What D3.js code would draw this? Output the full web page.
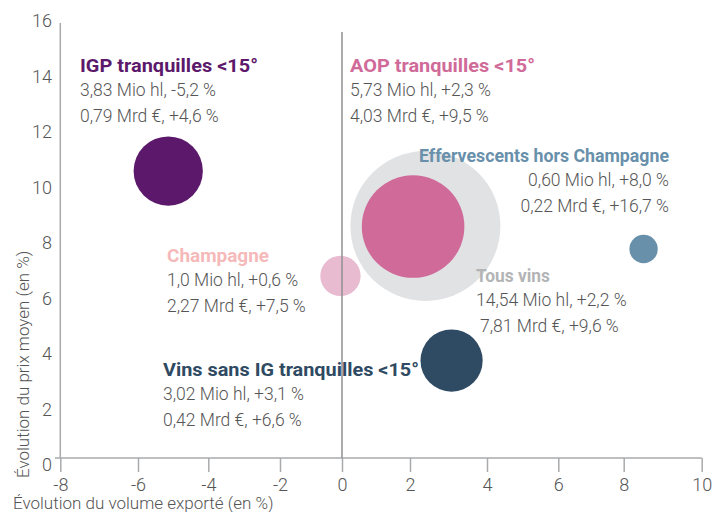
<!DOCTYPE html>
<html>
<head>
<meta charset="utf-8">
<script src="https://cdn.jsdelivr.net/npm/d3@7"></script>
<style>
  body { margin: 0; background: #fff; }
  text { font-family: Roboto, "Liberation Sans", sans-serif; }
</style>
</head>
<body>
<div id="chart"></div>
<script>
var svgWidth = 713;
var svgHeight = 512;

// categories and values
var categories = ["IGP tranquilles <15°", "AOP tranquilles <15°", "Tous vins", "Champagne",
  "Effervescents hors Champagne", "Vins sans IG tranquilles <15°"];
var volumeChange = [-5.14, 2.08, 2.40, -0.05, 8.51, 3.08];   // x, %
var priceChange = [10.34, 8.34, 8.36, 6.56, 7.53, 3.51];     // y, %
var bubbleSize = [3.1, 6.8, 14.54, 1.05, 0.52, 2.5];
var volumeLines = ["3,83 Mio hl, -5,2 %", "5,73 Mio hl, +2,3 %", "14,54 Mio hl, +2,2 %",
  "1,0 Mio hl, +0,6 %", "0,60 Mio hl, +8,0 %", "3,02 Mio hl, +3,1 %"];
var valueLines = ["0,79 Mrd €, +4,6 %", "4,03 Mrd €, +9,5 %", "7,81 Mrd €, +9,6 %",
  "2,27 Mrd €, +7,5 %", "0,22 Mrd €, +16,7 %", "0,42 Mrd €, +6,6 %"];
var xTicks = [-8, -6, -4, -2, 0, 2, 4, 6, 8, 10];
var yTicks = [0, 2, 4, 6, 8, 10, 12, 14, 16];

// styling
var fills = ["#5c196b", "#d06a99", "#e1e2e4", "#e8bbd0", "#6890ab", "#2f4a63"];
var titleColors = ["#5c196b", "#d06a99", "#b3b4b6", "#f6b9b9", "#6890ab", "#2f4a63"];
// label anchor: x, y of title baseline, text-anchor, title width, x shift of last line
var labelPos = [
  {x: 80, y: 72, anchor: "start", w: 178, dx: 0},
  {x: 350, y: 72, anchor: "start", w: 185, dx: 0},
  {x: 476, y: 282, anchor: "start", w: 74, dx: 4},
  {x: 167, y: 262, anchor: "start", w: 102, dx: 0},
  {x: 669, y: 162, anchor: "end", w: 250, dx: 0},
  {x: 163, y: 376, anchor: "start", w: 256, dx: 0}
];
var drawOrder = [2, 0, 1, 3, 4, 5];

var svg = d3.select("#chart")
  .append("svg")
  .attr("width", svgWidth)
  .attr("height", svgHeight);

// the source chart's ticks are not evenly spaced, so use a piecewise scale
var xScale = d3.scaleLinear()
  .domain(xTicks)
  .range([60.3, 138, 208.3, 280, 342, 410, 487, 558.3, 623.7, 701.7]);

var yScale = d3.scaleLinear()
  .domain([0, 16])
  .range([458, 14]);

var rScale = d3.scaleSqrt()
  .domain([0, d3.max(bubbleSize)])
  .range([0, 75]);

var axisColor = "#a9aaac";
var tickColor = "#555";

// bubbles
svg.append("g").selectAll("circle")
  .data(drawOrder)
  .enter()
  .append("circle")
  .attr("cx", i => xScale(volumeChange[i]))
  .attr("cy", i => yScale(priceChange[i]))
  .attr("r", i => rScale(bubbleSize[i]))
  .attr("fill", i => fills[i]);

// x axis
var xAxis = svg.append("g")
  .attr("transform", `translate(0, ${yScale(0)})`)
  .call(d3.axisBottom(xScale)
    .tickValues(xTicks)
    .tickFormat(d => String(d))
    .tickSize(14)
    .tickPadding(6)
    .tickSizeOuter(0));
xAxis.select(".domain").remove();
xAxis.append("line")
  .attr("x1", 55).attr("x2", xScale(10))
  .attr("stroke", axisColor).attr("stroke-width", 1.5);
xAxis.selectAll(".tick line").attr("stroke", axisColor).attr("stroke-width", 1.5);
xAxis.selectAll(".tick text")
  .attr("fill", tickColor)
  .attr("font-size", 18)
  .attr("font-weight", 300)
  .attr("font-family", "Roboto, sans-serif");

// y axis line
svg.append("line")
  .attr("x1", xScale(-8)).attr("x2", xScale(-8))
  .attr("y1", 23).attr("y2", yScale(0))
  .attr("stroke", axisColor).attr("stroke-width", 1.5);

// vertical zero line
svg.append("line")
  .attr("x1", xScale(0)).attr("x2", xScale(0))
  .attr("y1", 32).attr("y2", yScale(0))
  .attr("stroke", "#8f9092").attr("stroke-width", 1.5);

// y tick labels
svg.append("g").selectAll("text")
  .data(yTicks)
  .enter()
  .append("text")
  .attr("x", 52)
  .attr("y", d => yScale(d) + 13)
  .attr("text-anchor", "end")
  .attr("fill", tickColor)
  .attr("font-size", 18)
  .attr("font-weight", 300)
  .text(d => d);

// axis titles
svg.append("text")
  .attr("x", 13)
  .attr("y", 509)
  .attr("fill", tickColor)
  .attr("font-size", 17)
  .attr("font-weight", 300)
  .text("Évolution du volume exporté (en %)");

svg.append("text")
  .attr("transform", "rotate(-90)")
  .attr("x", -478)
  .attr("y", 29)
  .attr("fill", tickColor)
  .attr("font-size", 17)
  .attr("font-weight", 300)
  .text("Évolution du prix moyen (en %)");

// labels
var labels = svg.append("g").selectAll("g")
  .data(d3.range(categories.length))
  .enter()
  .append("g")
  .attr("transform", i => `translate(${labelPos[i].x}, ${labelPos[i].y})`)
  .attr("text-anchor", i => labelPos[i].anchor);

labels.append("text")
  .attr("fill", i => titleColors[i])
  .attr("font-size", 18)
  .attr("font-weight", 700)
  .attr("textLength", i => labelPos[i].w)
  .attr("lengthAdjust", "spacingAndGlyphs")
  .text(i => categories[i]);

labels.append("text")
  .attr("y", 24)
  .attr("fill", tickColor)
  .attr("font-size", 17.5)
  .attr("font-weight", 300)
  .text(i => volumeLines[i]);

labels.append("text")
  .attr("x", i => labelPos[i].dx)
  .attr("y", 50)
  .attr("fill", tickColor)
  .attr("font-size", 17.5)
  .attr("font-weight", 300)
  .text(i => valueLines[i]);
</script>
</body>
</html>
